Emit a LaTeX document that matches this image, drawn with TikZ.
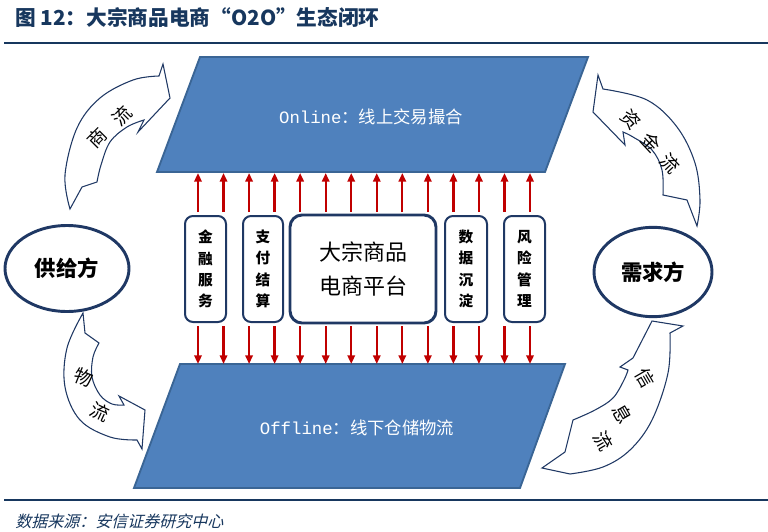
\documentclass[tikz,border=0pt]{standalone}
\usepackage{fontspec}
\setmainfont{Liberation Serif}
\newfontfamily\cjk{Noto Sans CJK SC}
\newfontfamily\cjkit[FakeSlant=0.25]{Noto Sans CJK SC}
\newfontfamily\monolat{Liberation Mono}
\usetikzlibrary{arrows.meta,shapes.geometric}
\definecolor{navy}{HTML}{1F3864}
\definecolor{titleblue}{HTML}{17375E}
\definecolor{parafill}{HTML}{4F81BD}
\definecolor{paraedge}{HTML}{3A6595}
\definecolor{arrred}{HTML}{C00000}
\begin{document}
\begin{tikzpicture}[x=0.75pt,y=-0.75pt,
  para/.style={fill=parafill,draw=paraedge,line width=1.4pt,line join=miter},
  flowarrow/.style={draw=navy,line width=0.8pt,fill=white,line join=miter},
  flowtext/.style={font=\cjk\fontsize{14}{14}\selectfont,inner sep=0pt},
  vbox/.style={draw=navy,line width=1.5pt,rounded corners=6pt,fill=white,
    minimum height=79.5pt,inner sep=0pt,align=center,
    font=\cjk\bfseries\fontsize{11}{16}\selectfont},
  bigbox/.style={draw=navy,line width=2.2pt,rounded corners=9pt,fill=white,
    minimum width=109.5pt,minimum height=81pt,inner sep=0pt,align=center,
    font=\cjk\fontsize{16.5}{25}\selectfont},
  party/.style={ellipse,draw=navy,line width=2.2pt,fill=white,inner sep=0pt,
    font=\cjk\bfseries\fontsize{16}{16}\selectfont},
  redarrow/.style={draw=arrred,line width=1.7pt,-{Triangle[length=6.5pt,width=5.5pt]}},
  paratext/.style={text=white,inner sep=0pt,font=\fontsize{13}{13}\selectfont},
]
\useasboundingbox (0,0) rectangle (768,532);

% title and rules
\node[anchor=west,inner sep=0pt,text=titleblue,font=\cjk\bfseries\fontsize{15.5}{15.5}\selectfont] (title) at (15,18) {图 12：大宗商品电商“O2O”生态闭环};
\draw[titleblue,line width=1.1pt] (4,43) coordinate (r1a) -- (768,43) coordinate (r1b);
\draw[titleblue,line width=1.1pt] (4,500) coordinate (r2a) -- (768,500) coordinate (r2b);
\node[anchor=west,inner sep=0pt,text=titleblue,font=\cjkit\fontsize{12}{12}\selectfont] (source) at (15,521) {数据来源：安信证券研究中心};

% parallelograms
\draw[para] (200,57) -- (588,57) -- (545,172) -- (157,172) -- cycle;
\draw[para] (180,364) -- (565,364) -- (520,488) -- (134,488) -- cycle;
\node[paratext] (online) at (371,117) {{\monolat Online}{\cjk ：线上交易撮合}};
\node[paratext] (offline) at (357,428) {{\monolat Offline}{\cjk ：线下仓储物流}};

% coordinates on parallelogram edges
\coordinate (topedge) at (0,173);
\coordinate (botedge) at (0,364);

% red arrows
\foreach \i in {0,...,13}{
  \pgfmathsetmacro{\xx}{198+25.54*\i}
  \coordinate (u\i) at (\xx,212);
  \coordinate (d\i) at (\xx,326);
  \draw[redarrow] (u\i) -- (u\i |- topedge);
  \draw[redarrow] (d\i) -- (d\i |- botedge);
}

% boxes
\node[vbox,minimum width=30.75pt] (jr) at (205.5,269) {金\\融\\服\\务};
\node[vbox,minimum width=30pt] (zf) at (263,269) {支\\付\\结\\算};
\node[bigbox] (platform) at (363,269) {大宗商品\\电商平台};
\node[vbox,minimum width=31.5pt] (sj) at (466,269) {数\\据\\沉\\淀};
\node[vbox,minimum width=30.75pt] (fx) at (524.5,269) {风\\险\\管\\理};

% parties
\node[party,minimum width=93pt,minimum height=64.5pt] (supply) at (67,268.5) {供给方};
\node[party,minimum width=88.5pt,minimum height=67pt] (demand) at (653,272) {需求方};

% curved flow arrows
% 商流
\draw[flowarrow] plot[smooth,tension=0.6] coordinates {(70,209) (65,175) (77,128) (100,98) (133,80) (159,76)}
  -- (163,64) -- (170,98) -- (138,132) -- (144,120)
  -- plot[smooth,tension=0.6] coordinates {(144,120) (127,127) (110,142) (101,165) (97,182)}
  -- (82,187) -- cycle;
\node[flowtext,rotate=45] (shang) at (97,138) {商};
\node[flowtext,rotate=45] (liu0) at (122,116) {流};

% 物流
\draw[flowarrow] (83,313) -- (85,333) -- (99,343)
  -- plot[smooth,tension=0.6] coordinates {(99,343) (93,357) (92,377) (100,395) (112,404) (124,405)}
  -- (119,396) -- (145,410) -- (142,449) -- (137,440)
  -- plot[smooth,tension=0.6] coordinates {(137,440) (110,437) (80,420) (65,387) (67,348) (83,313)}
  -- cycle;
\node[flowtext,rotate=-22] (wu) at (84,377) {物};
\node[flowtext,rotate=-25] (liu1) at (100,412) {流};

% 资金流
\draw[flowarrow] (598,75) -- (603,89)
  -- plot[smooth,tension=0.6] coordinates {(603,89) (647,100) (677,127) (695,163) (700,200) (697,226)}
  -- (687,200) -- (663,195)
  -- plot[smooth,tension=0.6] coordinates {(663,195) (662,170) (652,150) (633,137) (623,132)}
  -- (625,145) -- (593,112) -- cycle;
\node[flowtext,rotate=-47] (zi) at (631,120) {资};
\node[flowtext,rotate=-47] (jin) at (651,142) {金};
\node[flowtext,rotate=-47] (liu3) at (670,163) {流};

% 信息流
\draw[flowarrow] (652,321) -- (683,326) -- (670,333)
  -- plot[smooth,tension=0.6] coordinates {(670,333) (668,373) (652,420) (630,450) (603,467) (570,474)}
  -- (542,468) -- (565,452) -- (573,420)
  -- plot[smooth,tension=0.6] coordinates {(573,420) (595,410) (613,398) (624,380) (628,370)}
  -- (620,367) -- (633,358) -- cycle;
\node[flowtext,rotate=-60] (xin) at (645,378) {信};
\node[flowtext,rotate=-60] (xi) at (623,414) {息};
\node[flowtext,rotate=-60] (liu2) at (603,441) {流};
\end{tikzpicture}
\end{document}
